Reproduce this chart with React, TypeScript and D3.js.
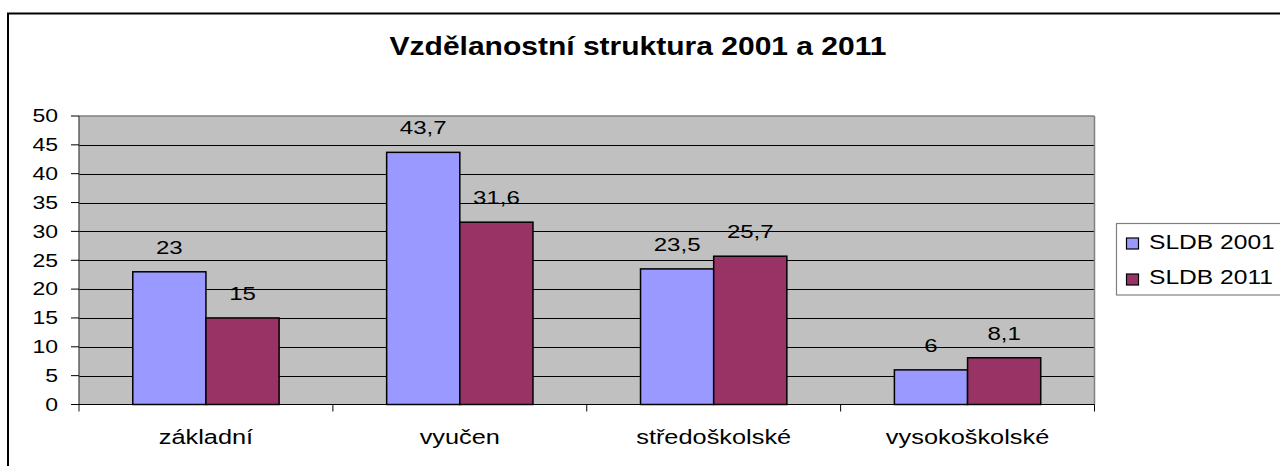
import React from "react";
import * as d3 from "d3";

const categories = ["základní", "vyučen", "středoškolské", "vysokoškolské"];
const seriesNames = ["SLDB 2001", "SLDB 2011"];
const values2001 = [23, 43.7, 23.5, 6];
const values2011 = [15, 31.6, 25.7, 8.1];
const labels2001 = ["23", "43,7", "23,5", "6"];
const labels2011 = ["15", "31,6", "25,7", "8,1"];
const yTicks = [0, 5, 10, 15, 20, 25, 30, 35, 40, 45, 50];
const colors = ["#9999FF", "#993366"];

const W = 1280;
const H = 466;
const plot = { left: 79, right: 1094.5, top: 116, bottom: 404.5 };
const FONT = "'Liberation Sans', Arial, Helvetica, sans-serif";
const SX = 1.3;

function SText(props: {
  x: number;
  y: number;
  size: number;
  anchor?: string;
  sx?: number;
  weight?: string;
  children: React.ReactNode;
}) {
  const { x, y, size, anchor = "middle", sx = SX, weight = "normal", children } = props;
  return (
    <text
      transform={`translate(${x},${y}) scale(${sx},1)`}
      textAnchor={anchor}
      fontSize={size}
      fontWeight={weight}
      fontFamily={FONT}
      fill="#000"
    >
      {children}
    </text>
  );
}

export default function App() {
  const y = d3.scaleLinear().domain([0, 50]).range([plot.bottom, plot.top]);
  const x0 = d3.scaleBand<string>().domain(categories).range([plot.left, plot.right]).padding(0);
  const x1 = d3
    .scaleBand<string>()
    .domain(seriesNames)
    .range([0, x0.bandwidth()])
    .paddingInner(0)
    .paddingOuter(0.735);
  const series = [values2001, values2011];
  const labels = [labels2001, labels2011];

  return (
    <svg
      width={W}
      height={H}
      style={{ position: "absolute", left: 0, top: 0, background: "#fff" }}
    >
      <rect x={0} y={0} width={W} height={H} fill="#fff" />
      {/* outer border */}
      <rect x={8} y={13.5} width={W + 20} height={H + 20} fill="none" stroke="#000" strokeWidth={2} />
      {/* title */}
      <SText x={638} y={55} size={25} weight="bold" sx={1.2}>
        Vzdělanostní struktura 2001 a 2011
      </SText>
      {/* plot background */}
      <rect
        x={plot.left}
        y={plot.top}
        width={plot.right - plot.left}
        height={plot.bottom - plot.top}
        fill="#C0C0C0"
      />
      {/* gridlines */}
      {yTicks.map((t) =>
        t === 0 || t === 50 ? null : (
          <line
            key={"g" + t}
            x1={plot.left}
            x2={plot.right}
            y1={Math.round(y(t)) + 0.5}
            y2={Math.round(y(t)) + 0.5}
            stroke="#000"
            strokeWidth={1}
          />
        )
      )}
      {/* plot border top/right */}
      <line x1={plot.left} x2={plot.right} y1={plot.top} y2={plot.top} stroke="#808080" strokeWidth={1.5} />
      <line x1={plot.right} x2={plot.right} y1={plot.top} y2={plot.bottom} stroke="#808080" strokeWidth={1.5} />
      {/* bars */}
      {categories.map((c, i) =>
        seriesNames.map((s, j) => {
          const v = series[j][i];
          const bx = (x0(c) as number) + (x1(s) as number);
          return (
            <rect
              key={c + s}
              x={bx}
              y={y(v)}
              width={x1.bandwidth()}
              height={y(0) - y(v)}
              fill={colors[j]}
              stroke="#000"
              strokeWidth={1.5}
            />
          );
        })
      )}
      {/* data labels */}
      {categories.map((c, i) =>
        seriesNames.map((s, j) => {
          const v = series[j][i];
          const cx = (x0(c) as number) + (x1(s) as number) + x1.bandwidth() / 2;
          return (
            <SText key={"l" + c + s} x={cx} y={y(v) - 18} size={18.5}>
              {labels[j][i]}
            </SText>
          );
        })
      )}
      {/* y axis */}
      <line x1={plot.left} x2={plot.left} y1={plot.top} y2={plot.bottom + 7} stroke="#404040" strokeWidth={1.2} />
      {yTicks.map((t) => (
        <g key={"t" + t}>
          <line x1={plot.left - 8} x2={plot.left} y1={y(t)} y2={y(t)} stroke="#000" strokeWidth={1} />
          <SText x={58} y={y(t) + 6.3} size={17.7} anchor="end">
            {String(t)}
          </SText>
        </g>
      ))}
      {/* x axis */}
      <line x1={plot.left} x2={plot.right} y1={plot.bottom} y2={plot.bottom} stroke="#000" strokeWidth={1.2} />
      {categories.map((c) => (
        <line
          key={"xt" + c}
          x1={(x0(c) as number) + x0.bandwidth()}
          x2={(x0(c) as number) + x0.bandwidth()}
          y1={plot.bottom}
          y2={plot.bottom + 7}
          stroke="#000"
          strokeWidth={1}
        />
      ))}
      {categories.map((c) => (
        <SText key={"xl" + c} x={(x0(c) as number) + x0.bandwidth() / 2} y={443.5} size={19.5} sx={1.3}>
          {c}
        </SText>
      ))}
      {/* legend */}
      <rect x={1116.5} y={223.5} width={200} height={71.5} fill="#fff" stroke="#808080" strokeWidth={1.2} />
      {seriesNames.map((s, j) => (
        <g key={"lg" + s}>
          <rect x={1126.5} y={238 + j * 36} width={12} height={11} fill={colors[j]} stroke="#000" strokeWidth={1.2} />
          <SText x={1149} y={248.5 + j * 35} size={20.5} anchor="start" sx={1.2}>
            {s}
          </SText>
        </g>
      ))}
    </svg>
  );
}
